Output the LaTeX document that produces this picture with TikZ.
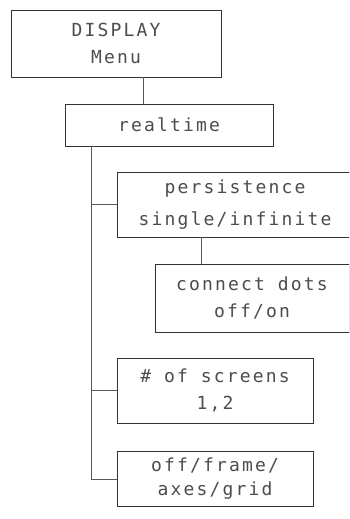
\documentclass[tikz,border=0pt]{standalone}
\usepackage{fontspec}
\newfontfamily\plotfont[LetterSpace=12]{DejaVu Sans Mono}
\begin{document}
\begin{tikzpicture}[x=1pt,y=-1pt,
  box/.style={draw=black!80, line width=0.9pt, rectangle, inner sep=0pt, align=center,
    text=black!70, font=\plotfont\fontsize{18}{27}\selectfont},
  link/.style={draw=black!65, line width=0.7pt}]
\useasboundingbox (0,0) rectangle (349,519);
\clip (0,0) rectangle (349,519);
\node[box, minimum width=210pt, minimum height=67pt] (disp) at (116,43.5) {DISPLAY\\Menu};
\node[box, minimum width=208pt, minimum height=42pt] (real) at (169,125) {realtime};
\node[box, minimum width=236pt, minimum height=65pt, font=\plotfont\fontsize{18}{32}\selectfont] (pers) at (235,204.5) {persistence\\single/infinite};
\node[box, minimum width=194pt, minimum height=68pt] (conn) at (252,298) {connect dots\\off/on};
\node[box, minimum width=196pt, minimum height=65pt] (scr) at (215,390.5) {\# of screens\\1,2};
\node[box, minimum width=196pt, minimum height=55pt, font=\plotfont\fontsize{18}{24}\selectfont] (off) at (215,479) {off/frame/\\axes/grid};
\coordinate (t0) at (91,146);
\draw[link] (disp.south -| 143,0) -- (real.north -| 143,0);
\draw[link] (real.south -| t0) -- (t0 |- off.west);
\draw[link] (t0 |- pers.west) -- (pers.west);
\draw[link] (t0 |- scr.west) -- (scr.west);
\draw[link] (t0 |- off.west) -- (off.west);
\draw[link] (pers.south -| 201,0) -- (conn.north -| 201,0);
\end{tikzpicture}
\end{document}
